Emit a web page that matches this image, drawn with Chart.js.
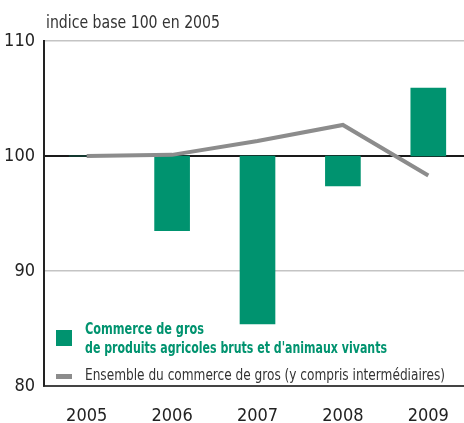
<!DOCTYPE html>
<html>
<head>
<meta charset="utf-8">
<script src="https://cdn.jsdelivr.net/npm/chart.js@4"></script>
<style>
  html, body { margin: 0; padding: 0; background: #fff; overflow: hidden; }
  #wrap { width: 472px; height: 423px; }
</style>
</head>
<body>
<div id="wrap"><canvas id="chart"></canvas></div>
<script>
// data
const years = ['2005', '2006', '2007', '2008', '2009'];
const agriValues = [100, 93.5, 85.4, 97.4, 105.9];   // bars, drawn from 100
const totalValues = [100, 100.1, 101.3, 102.7, 98.3]; // grey line
const yTicks = [80, 90, 100, 110];

const FONT = "'Liberation Sans Narrow', 'DejaVu Sans Condensed', 'Arial Narrow', sans-serif";
const GREEN = '#00936f';
const GREY = '#8c8c8c';

// title + legend drawn by hand, inside the plot like the original
// (maxWidth squeezes the text to the narrow look of the original font)
const overlay = {
    id: 'overlay',
    afterDraw(chart) {
        const ctx = chart.ctx;
        ctx.save();
        ctx.textBaseline = 'alphabetic';
        ctx.textAlign = 'left';

        ctx.fillStyle = '#333';
        ctx.font = '17px ' + FONT;
        ctx.fillText('indice base 100 en 2005', 46, 28, 174);

        // bar legend
        ctx.fillStyle = GREEN;
        ctx.fillRect(56, 330, 16, 16);
        ctx.font = 'bold 16px ' + FONT;
        ctx.fillText('Commerce de gros', 85, 334, 119);
        ctx.fillText("de produits agricoles bruts et d'animaux vivants", 85, 353, 302);

        // line legend
        ctx.fillStyle = GREY;
        ctx.fillRect(56, 374, 16, 5);
        ctx.fillStyle = '#333';
        ctx.font = '16px ' + FONT;
        ctx.fillText('Ensemble du commerce de gros (y compris intermédiaires)', 85, 380, 360);
        ctx.restore();
    }
};

new Chart(document.getElementById('chart'), {
    data: {
        labels: years,
        datasets: [{
            type: 'line',
            label: 'Ensemble du commerce de gros (y compris intermédiaires)',
            data: totalValues,
            borderColor: GREY,
            borderWidth: 4,
            pointRadius: 0,
            tension: 0,
            order: 0
        }, {
            type: 'bar',
            label: "Commerce de gros de produits agricoles bruts et d'animaux vivants",
            data: agriValues.map(v => [100, v]),
            backgroundColor: GREEN,
            borderWidth: 0,
            barThickness: 35,
            order: 1
        }]
    },
    options: {
        responsive: true,
        maintainAspectRatio: false,
        animation: false,
        layout: { padding: { top: 41, right: 1, left: 0, bottom: 0 } },
        plugins: {
            legend: { display: false },
            tooltip: { enabled: false }
        },
        scales: {
            x: {
                offset: true,
                grid: { display: false, drawTicks: false },
                border: { display: true, color: '#444', width: 2 },
                ticks: {
                    color: '#222',
                    font: { family: FONT, size: 18 },
                    padding: 20
                },
                afterFit(scale) { scale.height = 37; }
            },
            y: {
                min: 80,
                max: 110,
                afterBuildTicks(scale) { scale.ticks = yTicks.map(v => ({ value: v })); },
                grid: {
                    drawTicks: false,
                    color: c => c.tick && c.tick.value === 100 ? '#1a1a1a' : '#c4c4c4',
                    lineWidth: c => c.tick && c.tick.value === 100 ? 2 : 1.5
                },
                border: { display: true, color: '#222', width: 2 },
                ticks: {
                    color: '#222',
                    font: { family: FONT, size: 18 },
                    padding: 9
                },
                afterFit(scale) { scale.width = 44; }
            }
        }
    },
    plugins: [overlay]
});
</script>
</body>
</html>
